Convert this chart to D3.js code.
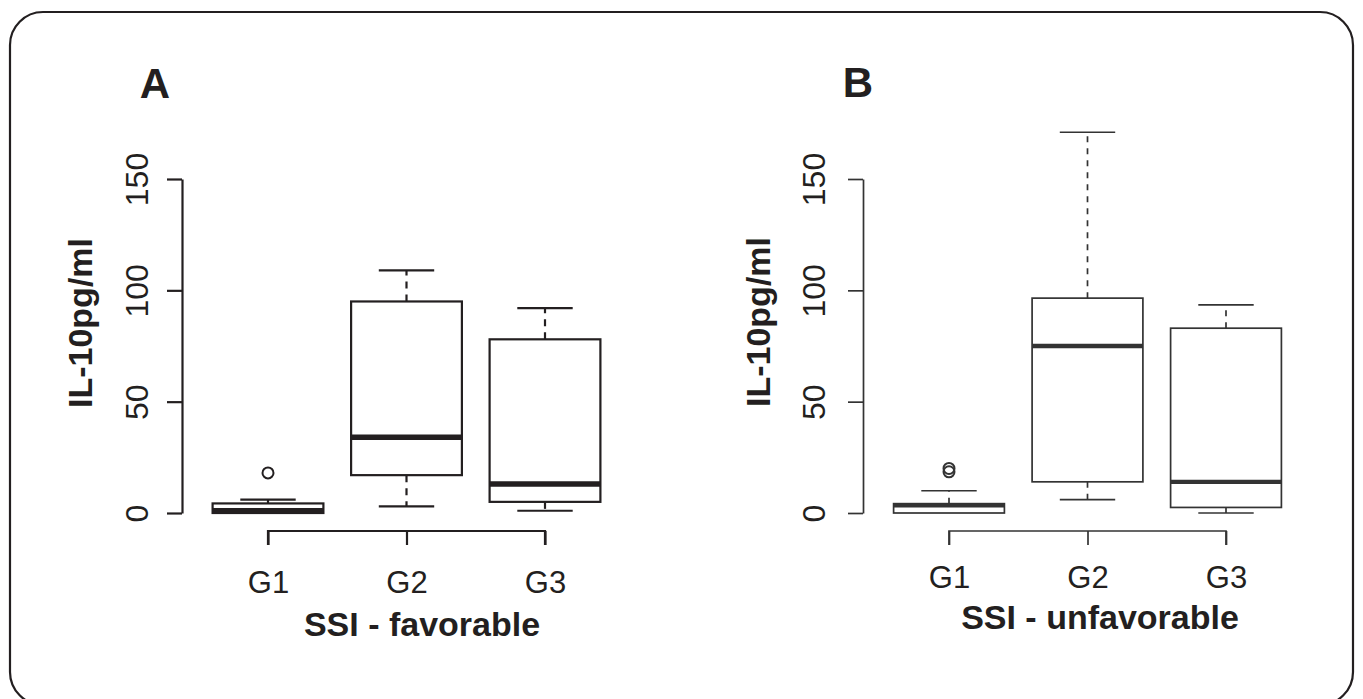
<!DOCTYPE html>
<html>
<head>
<meta charset="utf-8">
<script src="https://cdn.jsdelivr.net/npm/d3@7"></script>
<style>
  body { margin: 0; background: #fff; }
  svg text { font-family: "Liberation Sans", Arial, sans-serif; fill: #231f20; }
</style>
</head>
<body>
<div class="canvas"></div>
<script>
// data
const groups = ['G1', 'G2', 'G3'];
const yTicks = [0, 50, 100, 150];

// panel A - SSI favorable
const favLow  = [0, 3, 1];
const favQ1   = [0, 17, 5];
const favMed  = [1, 34, 13];
const favQ3   = [4.3, 95, 78];
const favHigh = [6, 109, 92];
const favOut  = [[18], [], []];

// panel B - SSI unfavorable
const unfLow  = [0, 6, 0];
const unfQ1   = [0, 14, 2.5];
const unfMed  = [3.5, 75, 14];
const unfQ3   = [4.2, 96.5, 83];
const unfHigh = [10, 171, 93.5];
const unfOut  = [[18.5, 20], [], []];

const svg = d3.select('.canvas').append('svg')
    .attr('width', 1363)
    .attr('height', 699);

// rounded frame
svg.append('rect')
    .attr('x', 10).attr('y', 12)
    .attr('width', 1343).attr('height', 693)
    .attr('rx', 33).attr('ry', 33)
    .attr('fill', 'none')
    .attr('stroke', '#231f20')
    .attr('stroke-width', 2.2);

const panels = [
  { letter: 'A', lx: 155, ly: 98, title: 'SSI - favorable',
    xr: [268, 545], yAxisX: 182, tickLabX: -34, ytitleX: 92, ytitleY: 323,
    xAxisY: 531, xLabY: 62, titleX: 422, titleY: 636,
    low: favLow, q1: favQ1, med: favMed, q3: favQ3, high: favHigh, out: favOut,
    color: '#231f20', lw: 2.2, mw: 5.6, dash: '7,6' },
  { letter: 'B', lx: 858, ly: 97, title: 'SSI - unfavorable',
    xr: [949, 1226], yAxisX: 863, tickLabX: -38, ytitleX: 770, ytitleY: 322,
    xAxisY: 531, xLabY: 57, titleX: 1100, titleY: 629,
    low: unfLow, q1: unfQ1, med: unfMed, q3: unfQ3, high: unfHigh, out: unfOut,
    color: '#333333', lw: 1.7, mw: 4.4, dash: '6,6' }
];

panels.forEach(p => {
  const y = d3.scaleLinear().domain([0, 150]).range([513, 179]);
  const x = d3.scalePoint().domain(groups).range(p.xr);
  const step = x.step();
  const bw = step * 0.8;

  const g = svg.append('g');

  // y axis
  const yAx = g.append('g')
      .attr('transform', `translate(${p.yAxisX},0)`)
      .call(d3.axisLeft(y).tickValues(yTicks).tickSize(15).tickSizeOuter(0));
  yAx.select('.domain').attr('stroke', p.color).attr('stroke-width', p.lw);
  yAx.selectAll('.tick line').attr('stroke', p.color).attr('stroke-width', p.lw);
  yAx.selectAll('.tick text')
      .attr('x', null).attr('dy', null)
      .attr('transform', `translate(${p.tickLabX},0) rotate(-90)`)
      .attr('text-anchor', 'middle')
      .style('font-size', '32px')
      .style('font-family', '"Liberation Sans", Arial, sans-serif')
      .attr('fill', '#231f20');

  // x axis
  const xAx = g.append('g')
      .attr('transform', `translate(0,${p.xAxisY})`)
      .call(d3.axisBottom(x).tickSize(14).tickSizeOuter(0));
  xAx.select('.domain').attr('d', `M${p.xr[0]},14V0H${p.xr[1]}V14`)
      .attr('stroke', p.color).attr('stroke-width', p.lw);
  xAx.selectAll('.tick line').attr('stroke', p.color).attr('stroke-width', p.lw);
  xAx.selectAll('.tick text')
      .attr('y', p.xLabY).attr('dy', null)
      .style('font-size', '31px')
      .style('font-family', '"Liberation Sans", Arial, sans-serif')
      .attr('fill', '#231f20');

  // titles
  g.append('text')
      .attr('x', p.lx).attr('y', p.ly)
      .attr('text-anchor', 'middle')
      .style('font-size', '42px').style('font-weight', 'bold')
      .text(p.letter);

  g.append('text')
      .attr('transform', `translate(${p.ytitleX},${p.ytitleY}) rotate(-90)`)
      .attr('text-anchor', 'middle')
      .style('font-size', '34px').style('font-weight', 'bold')
      .text('IL-10pg/ml');

  g.append('text')
      .attr('x', p.titleX).attr('y', p.titleY)
      .attr('text-anchor', 'middle')
      .style('font-size', '34px').style('font-weight', 'bold')
      .text(p.title);

  // boxes
  groups.forEach((grp, i) => {
    const cx = x(grp);
    const bx = g.append('g');

    // whiskers
    [[p.q3[i], p.high[i]], [p.q1[i], p.low[i]]].forEach(([from, to]) => {
      if (from === to) return;
      bx.append('line')
          .attr('x1', cx).attr('x2', cx)
          .attr('y1', y(from)).attr('y2', y(to))
          .attr('stroke', p.color).attr('stroke-width', p.lw)
          .attr('stroke-dasharray', p.dash);
      bx.append('line')
          .attr('x1', cx - bw / 4).attr('x2', cx + bw / 4)
          .attr('y1', y(to)).attr('y2', y(to))
          .attr('stroke', p.color).attr('stroke-width', p.lw);
    });

    bx.append('rect')
        .attr('x', cx - bw / 2).attr('width', bw)
        .attr('y', y(p.q3[i])).attr('height', y(p.q1[i]) - y(p.q3[i]))
        .attr('fill', '#fff')
        .attr('stroke', p.color).attr('stroke-width', p.lw);

    bx.append('line')
        .attr('x1', cx - bw / 2).attr('x2', cx + bw / 2)
        .attr('y1', y(p.med[i])).attr('y2', y(p.med[i]))
        .attr('stroke', p.color).attr('stroke-width', p.mw);

    bx.selectAll('circle.out')
        .data(p.out[i])
        .join('circle')
        .attr('class', 'out')
        .attr('cx', cx).attr('cy', d => y(d))
        .attr('r', 5.5)
        .attr('fill', 'none')
        .attr('stroke', p.color).attr('stroke-width', 2);
  });
});
</script>
</body>
</html>
